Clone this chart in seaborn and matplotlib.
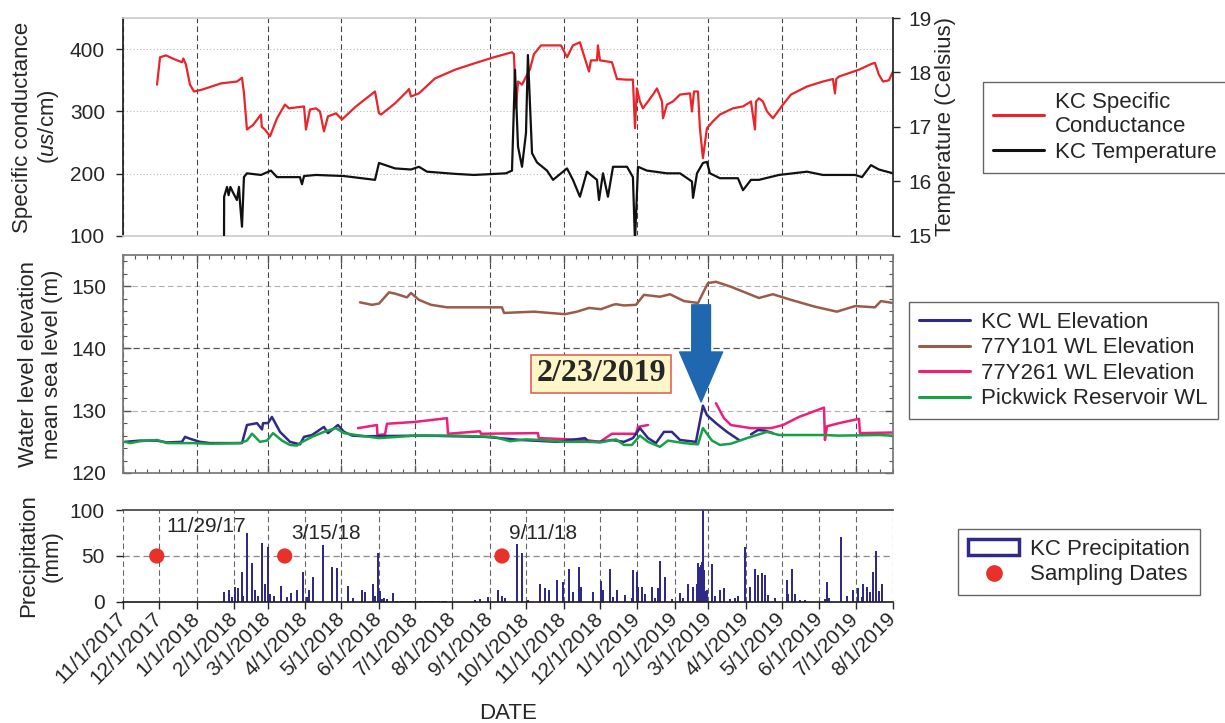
import matplotlib.pyplot as plt
import matplotlib.dates as mdates
from matplotlib.lines import Line2D
from matplotlib.patches import Patch
from matplotlib.ticker import MultipleLocator
import pandas as pd
import seaborn as sns

sns.set_theme(style='ticks')
plt.rcParams['font.family'] = ['Liberation Sans', 'DejaVu Sans']
plt.rcParams['mathtext.fontset'] = 'custom'
plt.rcParams['mathtext.it'] = 'Liberation Sans:italic'
plt.rcParams['mathtext.rm'] = 'Liberation Sans'

# all "days" are days since 11/1/2017
START = pd.Timestamp('2017-11-01')
END = pd.Timestamp('2019-08-01')

# KC specific conductance (us/cm)
sc_days = [28.2, 30.7, 35.6, 42.3, 48.9, 50.0, 52.2, 55.5, 58.8, 65.5,
           81.2, 94.4, 98.6, 100.2, 102.7, 107.7, 114.3, 115.0, 117.6, 121.8,
           127.6, 134.2, 137.5, 150.0, 151.6, 154.9, 159.9, 163.2, 166.5, 169.8,
           176.5, 181.4, 193.0, 208.8, 212.1, 213.8, 225.4, 235.3, 237.0, 238.6,
           245.2, 258.5, 275.1, 290.8, 307.4, 322.3, 323.9, 325.6, 327.3, 330.6,
           337.2, 340.5, 346.3, 362.9, 367.9, 372.8, 378.6, 381.1, 386.1, 387.7,
           392.7, 393.5, 395.2, 405.1, 409.3, 417.6, 422.5, 424.2, 425.8, 428.3,
           430.8, 439.1, 442.4, 446.6, 447.4, 450.7, 455.7, 461.5, 469.8, 471.4,
           473.1, 476.4, 478.0, 480.5, 483.8, 488.8, 494.6, 505.4, 513.7, 520.3,
           523.6, 524.5, 526.9, 530.2, 533.6, 538.5, 546.8, 553.4, 566.7, 579.9,
           588.2, 589.9, 591.0, 593.2, 609.8, 619.7, 623.0, 626.3, 629.7, 634.6,
           637.9]
sc_vals = [343, 387, 390, 384, 379, 385, 375, 343, 332, 335,
           345, 348, 354, 330, 271, 278, 295, 275, 271, 260,
           289, 311, 305, 308, 271, 303, 305, 300, 268, 292,
           297, 287, 308, 332, 297, 295, 313, 332, 336, 324,
           329, 353, 367, 377, 387, 395, 392, 305, 348, 343,
           368, 392, 406, 406, 387, 406, 411, 395, 364, 382,
           382, 406, 382, 379, 352, 351, 351, 273, 337, 316,
           305, 327, 337, 316, 289, 311, 316, 327, 329, 300,
           332, 332, 273, 225, 273, 284, 295, 305, 308, 316,
           271, 316, 321, 316, 300, 289, 311, 327, 340, 348,
           352, 329, 352, 356, 367, 376, 378, 359, 348, 350,
           364]

# KC temperature (Celsius)
t_days = [83.7, 83.8, 86.2, 87.5, 89.0, 91.1, 94.4, 96.1, 97.0, 98.6,
          100.2, 102.7, 114.3, 122.6, 127.6, 146.6, 148.3, 150.0, 159.9, 183.1,
          208.8, 212.1, 225.4, 238.6, 245.2, 251.9, 275.1, 290.8, 317.3, 322.3,
          324.8, 327.3, 330.6, 333.9, 335.5, 338.9, 343.0, 351.3, 356.3, 367.9,
          372.8, 378.6, 384.4, 392.7, 394.4, 397.7, 401.8, 406.0, 417.6, 422.5,
          424.2, 426.7, 434.1, 450.7, 461.5, 471.4, 472.3, 475.6, 480.5, 483.8,
          486.3, 494.6, 509.5, 513.7, 520.3, 526.9, 543.5, 566.7, 579.9, 606.5,
          612.3, 619.7, 626.3, 637.9]
t_vals = [14.9, 15.72, 15.9, 15.75, 15.9, 15.8, 15.66, 15.9, 15.6, 15.17,
          16.08, 16.15, 16.12, 16.2, 16.08, 16.08, 15.95, 16.1, 16.12, 16.1,
          16.03, 16.34, 16.24, 16.22, 16.27, 16.18, 16.14, 16.12, 16.15, 16.2,
          18.05, 16.64, 16.27, 16.89, 18.32, 16.52, 16.35, 16.2, 16.03, 16.24,
          16.03, 15.72, 16.18, 16.03, 15.66, 16.15, 15.72, 16.27, 16.27, 16.08,
          14.9, 16.27, 16.2, 16.15, 16.15, 16.0, 15.7, 16.15, 16.34, 16.36,
          16.15, 16.06, 16.06, 15.84, 16.03, 16.03, 16.12, 16.18, 16.12, 16.12,
          16.08, 16.3, 16.22, 16.15]

# KC water level elevation (m)
kc_days = [1.7, 14.1, 28.2, 36.5, 48.9, 51.4, 55.5, 63.8, 72.1, 98.6,
           102.7, 111.0, 115.2, 116.0, 120.1, 123.4, 130.1, 138.4, 146.6, 150.0,
           156.6, 166.5, 169.8, 178.1, 183.1, 190.0, 200.0, 250.0, 300.0, 330.0,
           360.0, 382.8, 386.0, 395.2, 405.1, 415.1, 422.5, 428.3, 435.0, 441.6,
           448.2, 454.8, 461.5, 474.7, 480.5, 483.8, 491.3, 500.4, 510.4]
kc_vals = [125.0, 125.2, 125.2, 124.9, 125.0, 125.8, 125.5, 125.0, 124.8, 124.8,
           127.7, 128.0, 127.0, 128.0, 128.0, 129.0, 126.6, 125.0, 124.6, 125.8,
           126.1, 127.4, 126.4, 127.7, 126.6, 126.0, 125.9, 126.0, 125.8, 125.3,
           125.0, 125.6, 125.0, 125.0, 125.3, 125.0, 125.6, 127.2, 125.6, 124.8,
           126.6, 126.6, 125.3, 125.0, 130.8, 129.3, 128.0, 126.6, 125.3]
kc2_days = [520.3, 526.1, 531.9, 538.5]
kc2_vals = [126.2, 126.9, 126.8, 126.4]

# 77Y101 water level elevation (m)
br_days = [196.4, 206.3, 212.1, 220.4, 225.4, 235.3, 238.6, 245.2, 255.2, 268.4,
           314.0, 315.7, 340.5, 366.2, 376.1, 386.1, 396.0, 406.0, 408.5, 415.1,
           425.0, 431.6, 444.9, 453.2, 464.8, 476.4, 484.7, 491.3, 503.7, 526.9,
           538.5, 553.4, 573.3, 591.5, 606.5, 623.0, 628.0, 637.9]
br_vals = [147.4, 147.0, 147.2, 149.0, 148.8, 148.2, 148.9, 147.8, 147.0, 146.6,
           146.6, 145.7, 145.9, 145.5, 145.9, 146.5, 146.3, 147.0, 147.1, 146.9,
           147.0, 148.6, 148.3, 148.7, 147.6, 147.3, 150.5, 150.7, 149.9, 148.1,
           148.7, 147.8, 146.7, 145.9, 146.8, 146.6, 147.6, 147.3]

# 77Y261 water level elevation (m), two records with a gap
p1_days = [194.7, 210.4, 210.8, 217.1, 218.7, 241.9, 268.4, 269.3, 295.8, 296.6,
           343.8, 344.5, 382.8, 395.2, 405.1, 425.0, 426.7, 435.0]
p1_vals = [127.2, 127.7, 126.1, 126.2, 127.9, 128.2, 128.8, 126.3, 126.7, 126.3,
           126.4, 125.6, 125.3, 125.0, 126.3, 126.3, 127.4, 127.7]
p2_days = [491.3, 497.9, 503.7, 520.3, 536.9, 546.8, 560.1, 580.8, 581.6, 583.3,
           593.2, 609.8, 610.6, 637.9]
p2_vals = [131.2, 128.8, 127.7, 127.2, 127.2, 127.7, 129.0, 130.5, 125.3, 127.5,
           128.0, 128.7, 126.4, 126.5]

# Pickwick reservoir water level (m)
pk_days = [1.7, 5.8, 14.1, 28.2, 36.5, 58.0, 72.1, 96.9, 102.7, 106.9,
           113.5, 119.3, 124.3, 131.7, 138.4, 144.2, 146.6, 156.6, 166.5, 176.5,
           183.1, 193.0, 212.1, 241.9, 275.1, 307.4, 320.6, 333.9, 346.3, 366.2,
           389.4, 395.2, 408.5, 415.1, 421.7, 428.3, 435.0, 444.9, 451.5, 464.8,
           476.4, 480.5, 488.0, 494.6, 503.7, 517.0, 533.6, 543.5, 579.9, 593.2,
           626.3, 637.9]
pk_vals = [125.0, 124.8, 125.1, 125.3, 124.8, 124.8, 124.7, 124.8, 125.2, 126.3,
           125.0, 125.2, 126.4, 125.2, 124.5, 124.4, 124.8, 125.8, 126.6, 127.2,
           126.4, 126.1, 125.6, 126.0, 126.0, 125.8, 125.1, 125.4, 125.3, 125.0,
           125.0, 124.9, 125.4, 124.5, 124.5, 126.0, 125.0, 124.2, 125.2, 124.8,
           124.6, 127.2, 125.2, 124.5, 124.7, 125.6, 126.6, 126.1, 126.1, 126.0,
           126.1, 126.0]

# KC precipitation (day, mm)
precip = [(83.7, 11), (87.8, 13), (90.3, 5), (92.8, 16), (95.3, 15), (98.6, 33),
          (99.4, 6), (102.7, 75), (106.9, 42), (109.4, 13), (111.8, 6), (115.2, 64),
          (117.6, 20), (120.1, 60), (121.8, 9), (125.1, 6), (130.9, 17), (135.9, 5),
          (139.2, 10), (144.2, 13), (149.1, 33), (152.4, 5), (154.1, 13), (157.4, 27),
          (165.7, 62), (173.2, 38), (177.3, 37), (186.4, 17), (190.6, 4), (198.0, 13),
          (200.5, 11), (207.1, 19), (208.8, 7), (211.3, 53), (212.9, 12), (214.5, 3),
          (216.5, 4), (218.7, 3), (223.7, 10),
          (226, 1.5), (228, 1), (230, 1.5), (232, 1), (234, 1), (236, 1.5), (238, 1),
          (240, 1), (242, 1.5), (244, 1), (246, 1), (248, 1.5), (250, 1), (252, 1),
          (254, 1.5), (256, 1), (258, 1), (260, 1.5), (262, 1), (264, 1), (266, 1.5),
          (268, 1),
          (291.6, 2), (295.8, 3), (302.4, 5), (310.7, 13), (314.0, 7), (316.5, 4),
          (326.4, 63), (330.6, 53), (335.5, 2), (345.5, 19), (349.6, 15), (352.9, 13),
          (359.6, 24), (364.5, 22), (369.5, 36), (372.8, 11), (377.8, 38), (379.5, 16),
          (389.4, 11), (396.0, 23), (397.7, 13), (403.5, 36), (406.0, 5), (409.3, 13),
          (415.9, 8), (421.7, 4), (422.5, 35), (425.8, 33), (426.7, 16), (430.0, 16),
          (432.5, 9), (438.3, 16), (440.8, 4), (443.3, 15), (444.9, 45), (449.0, 27),
          (454.8, 3), (461.5, 10), (463.9, 4), (468.1, 20), (472.3, 16), (475.6, 20),
          (476.4, 42), (477.5, 38), (478.5, 40), (479.7, 44), (480.5, 100), (481.4, 35),
          (482.2, 12), (483.8, 13), (488.0, 41), (490.5, 6), (494.6, 13), (497.9, 15),
          (502.9, 3), (507.0, 4), (509.5, 6), (515.3, 60), (519.5, 16), (523.6, 36),
          (526.1, 29), (529.4, 31), (531.9, 29), (534.4, 8), (540.2, 4), (550.1, 24),
          (551.0, 9), (554.3, 36), (556.8, 9), (560.9, 2), (565.0, 2), (581.6, 3),
          (583.3, 22), (585.0, 4), (594.9, 71), (599.8, 7), (604.8, 13), (609.0, 15),
          (612.3, 5), (613.1, 20), (616.4, 16), (618.9, 11), (621.4, 33), (623.9, 55),
          (626.3, 12), (628.8, 20)]

sampling_dates = ['2017-11-29', '2018-03-15', '2018-09-11']
sampling_labels = ['11/29/17', '3/15/18', '9/11/18']
sampling_level = 50
label_offsets = [(7, 21), (5, 16), (5, 16)]

event_date = '2019-02-23'
event_label = '2/23/2019'

RED = '#e8252a'
BLACK = '#111111'
NAVY = '#2f2a88'
BROWN = '#9c5b4a'
PINK = '#ee1f7a'
GREEN = '#17a048'
ARROW = '#1f67ae'
DOT = '#e8312a'


def to_dates(days):
    return START + pd.to_timedelta(days, unit='D')


def draw_line(ax, days, vals, color, lw):
    sns.lineplot(x=to_dates(days), y=vals, ax=ax, color=color, linewidth=lw,
                 estimator=None, sort=False, legend=False)


fig = plt.figure(figsize=(12.25, 7.23), dpi=100)
ax1 = fig.add_axes([0.1004, 0.6736, 0.6286, 0.3015])
ax2 = fig.add_axes([0.1004, 0.3458, 0.6286, 0.3015])
ax3 = fig.add_axes([0.1004, 0.1674, 0.6286, 0.1272])
ax1t = ax1.twinx()

# ---- top panel: conductance and temperature
draw_line(ax1, sc_days, sc_vals, RED, 1.6)
draw_line(ax1t, t_days, t_vals, BLACK, 1.6)

ax1.set_ylim(100, 450)
ax1.set_yticks([100, 200, 300, 400])
ax1t.set_ylim(15, 19)
ax1t.set_yticks([15, 16, 17, 18, 19])

# ---- middle panel: water levels
draw_line(ax2, br_days, br_vals, BROWN, 1.8)
draw_line(ax2, p1_days, p1_vals, PINK, 1.8)
draw_line(ax2, p2_days, p2_vals, PINK, 1.8)
draw_line(ax2, kc_days, kc_vals, NAVY, 1.8)
draw_line(ax2, kc2_days, kc2_vals, NAVY, 1.8)
draw_line(ax2, pk_days, pk_vals, GREEN, 1.8)
ax2.set_ylim(120, 155)
ax2.yaxis.set_major_locator(MultipleLocator(10))
ax2.yaxis.set_minor_locator(MultipleLocator(2))

ax2.text(pd.Timestamp('2018-12-02'), 135.9, event_label, fontsize=23,
         fontweight='bold', family=['Liberation Serif', 'DejaVu Serif'],
         ha='center', va='center', zorder=5,
         bbox=dict(boxstyle='square,pad=0.15', fc='#fdf6c8', ec='#e0645a', lw=1.2))
ax2.annotate('', xy=(pd.Timestamp(event_date), 131.4),
             xytext=(pd.Timestamp(event_date), 147.0),
             arrowprops=dict(fc=ARROW, ec=ARROW, width=13.5, headwidth=31,
                             headlength=36, shrink=0), zorder=6)

# ---- bottom panel: precipitation and sampling dates
pr_days = [p[0] for p in precip]
pr_vals = [p[1] for p in precip]
ax3.bar(to_dates(pr_days), pr_vals, width=1.6, color=NAVY, linewidth=0)
sns.scatterplot(x=pd.to_datetime(sampling_dates), y=[sampling_level] * len(sampling_dates),
                ax=ax3, color=DOT, s=120, edgecolor='none', zorder=4, legend=False)
for d, lab, off in zip(sampling_dates, sampling_labels, label_offsets):
    ax3.annotate(lab, xy=(pd.Timestamp(d), sampling_level), xytext=off,
                 textcoords='offset points', fontsize=15, ha='left', va='center')
ax3.set_ylim(0, 100)
ax3.set_yticks([0, 50, 100])
ax3.axhline(50, color='#888888', lw=0.9, ls=(0, (5, 3)), zorder=0)

# ---- shared x handling
two_month = pd.date_range(START, END, freq='2MS')
monthly = pd.date_range(START, END, freq='MS')
for ax in (ax1, ax2, ax3):
    ax.set_xlim(START, END)
    ax.set_xlabel('')
    ax.set_ylabel('')
ax1t.set_xlim(START, END)

ax1.set_xticks(two_month)
ax1.tick_params(axis='x', length=0, labelbottom=False)
ax1.grid(True, axis='x', color='#444444', lw=0.8, ls=(0, (5, 3)))
ax1.grid(True, axis='y', color='#bbbbbb', lw=0.8, ls=(0, (1, 2)))
ax1.tick_params(axis='y', direction='out', length=5, width=1, pad=8, labelsize=15)
ax1t.tick_params(axis='y', direction='out', length=5, width=1, pad=6, labelsize=15)
ax1t.tick_params(axis='x', length=0, labelbottom=False)
for s in ('top', 'bottom'):
    ax1.spines[s].set_color('#cccccc')
    ax1t.spines[s].set_visible(False)
ax1.spines['right'].set_visible(False)
ax1t.spines['left'].set_visible(False)
ax1.spines['left'].set_color('#222222')
ax1t.spines['right'].set_color('#222222')

ax2.set_xticks(two_month)
ax2.xaxis.set_minor_locator(mdates.DayLocator(bymonthday=[1, 11, 21]))
ax2.tick_params(axis='both', which='both', direction='in', top=True, right=True,
                color='#555555')
ax2.tick_params(axis='both', which='major', length=6, width=1)
ax2.tick_params(axis='both', which='minor', length=3, width=0.8)
ax2.tick_params(axis='x', labelbottom=False)
ax2.tick_params(axis='y', pad=12, labelsize=15)
ax2.grid(True, axis='x', which='major', color='#444444', lw=0.8, ls=(0, (5, 3)))
ax2.axhline(140, color='#555555', lw=0.9, ls=(0, (5, 3)), zorder=0)
for lvl in (130, 150):
    ax2.axhline(lvl, color='#b0b0b0', lw=0.8, ls=(0, (5, 3)), zorder=0)
for s in ax2.spines.values():
    s.set_color('#777777')

ax3.set_xticks(monthly)
ax3.set_xticklabels([f'{d.month}/{d.day}/{d.year}' for d in monthly], rotation=45,
                    ha='right', va='center', rotation_mode='anchor')
ax3.tick_params(axis='x', direction='out', length=5, width=1, pad=5, labelsize=15)
ax3.tick_params(axis='y', direction='out', length=5, width=1, pad=8, labelsize=15)
ax3.grid(True, axis='x', color='#666666', lw=0.8, ls=(0, (5, 3)))
ax3.spines['left'].set_visible(False)
ax3.spines['right'].set_visible(False)
ax3.spines['top'].set_color('#444444')
ax3.spines['bottom'].set_color('#222222')

# ---- axis labels
ax1.set_ylabel('Specific conductance\n($\\mathit{us}$/cm)', fontsize=16)
ax1.yaxis.set_label_coords(-0.08, 0.5)
ax1t.set_ylabel('Temperature (Celsius)', fontsize=16)
ax1t.yaxis.set_label_coords(1.054, 0.5)
ax2.set_ylabel('Water level elevation\nmean sea level (m)', fontsize=16)
ax2.yaxis.set_label_coords(-0.078, 0.5)
ax3.set_ylabel('Precipitation\n(mm)', fontsize=16)
ax3.yaxis.set_label_coords(-0.078, 0.5)
ax3.set_xlabel('DATE', fontsize=16)
ax3.xaxis.set_label_coords(0.5, -1.10)

# ---- legends
leg_kw = dict(loc='upper left', bbox_transform=fig.transFigure, frameon=True,
              fancybox=False, edgecolor='#666666', framealpha=1, fontsize=16,
              handlelength=2.3, handletextpad=0.5, labelspacing=0.2,
              borderpad=0.45, borderaxespad=0)
leg1 = fig.legend([Line2D([], [], color=RED, lw=2.2), Line2D([], [], color=BLACK, lw=2.2)],
                  ['KC Specific\nConductance', 'KC Temperature'],
                  bbox_to_anchor=(983 / 1225, 1 - 82 / 723), **leg_kw)
leg2 = fig.legend([Line2D([], [], color=c, lw=2.2) for c in (NAVY, BROWN, PINK, GREEN)],
                  ['KC WL Elevation', '77Y101 WL Elevation', '77Y261 WL Elevation',
                   'Pickwick Reservoir WL'],
                  bbox_to_anchor=(909 / 1225, 1 - 302 / 723), **leg_kw)
leg3 = fig.legend([Patch(facecolor='white', edgecolor=NAVY, linewidth=2.5),
                   Line2D([], [], ls='none', marker='o', ms=11, color=DOT)],
                  ['KC Precipitation', 'Sampling Dates'],
                  bbox_to_anchor=(958 / 1225, 1 - 529 / 723), **leg_kw)
for leg in (leg1, leg2, leg3):
    leg.get_frame().set_linewidth(1.0)

fig.savefig('out.png', dpi=100)
